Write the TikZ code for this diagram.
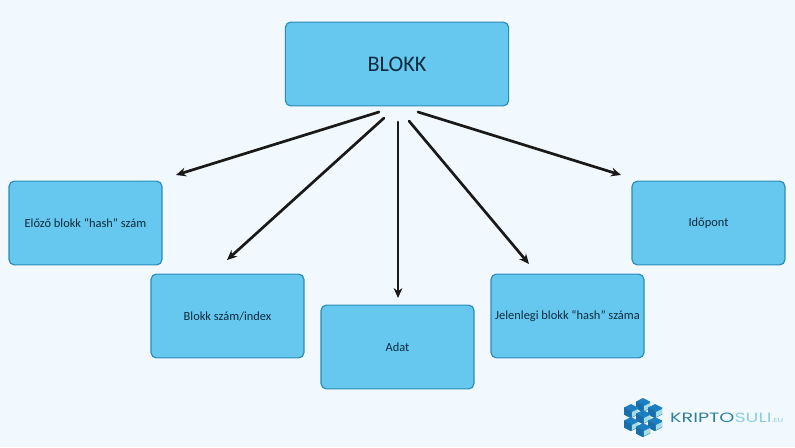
\documentclass[tikz,border=0pt]{standalone}
\usepackage{fontspec}
\setmainfont{Carlito}
\newfontfamily\logofont{Poppins}
\usetikzlibrary{arrows.meta}
\definecolor{pagebg}{HTML}{F2F9FE}
\definecolor{boxfill}{HTML}{66C8EE}
\definecolor{boxline}{HTML}{2A8DB8}
\definecolor{boxtext}{HTML}{0E2A3F}
\definecolor{logoblue}{HTML}{1C7FC4}
\definecolor{logodark}{HTML}{1B6FA8}
\definecolor{logopale}{HTML}{A9DCDC}
\definecolor{logotext}{HTML}{2F7F9F}
\definecolor{logolight}{HTML}{8FCFE0}
\tikzset{
  blockbox/.style={draw=boxline,fill=boxfill,line width=1pt,rounded corners=4.5pt,
    minimum width=130.5pt,minimum height=71.5pt,inner sep=0pt,text=boxtext,font=\fontsize{10.6}{12}\selectfont},
  linkarrow/.style={draw=black!90,line width=2.3pt,-{Stealth[length=8.5pt,width=7.5pt]}},
}
\begin{document}
\begin{tikzpicture}[x=0.03cm,y=-0.03cm,line cap=round,line join=round]
  \fill[pagebg] (0,0) rectangle (795,447);
  \useasboundingbox (0,0) rectangle (795,447);
  % boxes
  \node[blockbox,minimum width=190.5pt,font=\fontsize{19}{23}\selectfont] (blokk) at (397,64) {BLOKK};
  \node[blockbox] (elozo) at (85.5,223) {Előző blokk “hash” szám};
  \node[blockbox] (szam) at (227.5,316) {Blokk szám/index};
  \node[blockbox] (adat) at (397.5,347) {Adat};
  \node[blockbox] (jelenlegi) at (567.5,316) {Jelenlegi blokk “hash” száma};
  \node[blockbox] (idopont) at (708.5,223) {Időpont};
  % arrow ends, they stop short of the boxes
  \coordinate (s1) at (379,112);
  \coordinate (s2) at (384,118);
  \coordinate (s3) at (398,122);
  \coordinate (s4) at (409,121);
  \coordinate (s5) at (418,112);
  \coordinate (e1) at (176,175);
  \coordinate (e2) at (227,260);
  \coordinate (e3) at (398,298);
  \coordinate (e4) at (529,264);
  \coordinate (e5) at (621,175);
  \foreach \i in {1,...,5}
    \draw[linkarrow] (s\i) -- (e\i);
  % logo
  \foreach \x/\y in {643/405,631/411,655/411,643/417,631/424,655/424,643/430}{
    \fill[logoblue] (\x-7,\y-3.5) -- (\x,\y-7) -- (\x+7,\y-3.5) -- (\x+7,\y+3.5) -- (\x,\y+7) -- (\x-7,\y+3.5) -- cycle;
    \fill[logopale] (\x+1,\y+1) -- (\x+7,\y-2) -- (\x+7,\y+3) -- (\x+1,\y+6) -- cycle;
    \fill[logodark] (\x-7,\y-3.5) -- (\x,\y) -- (\x,\y+7) -- (\x-7,\y+3.5) -- cycle;
  }
  \node[anchor=west,inner sep=0pt,font=\logofont\fontsize{11.5}{12}\selectfont] (logotxt) at (670,418)
    {\scalebox{1.42}[1]{\textcolor{logotext}{KRIPTO}\textcolor{logolight}{SULI}\textcolor{logolight}{\fontsize{5}{6}\selectfont.EU}}};
\end{tikzpicture}
\end{document}
